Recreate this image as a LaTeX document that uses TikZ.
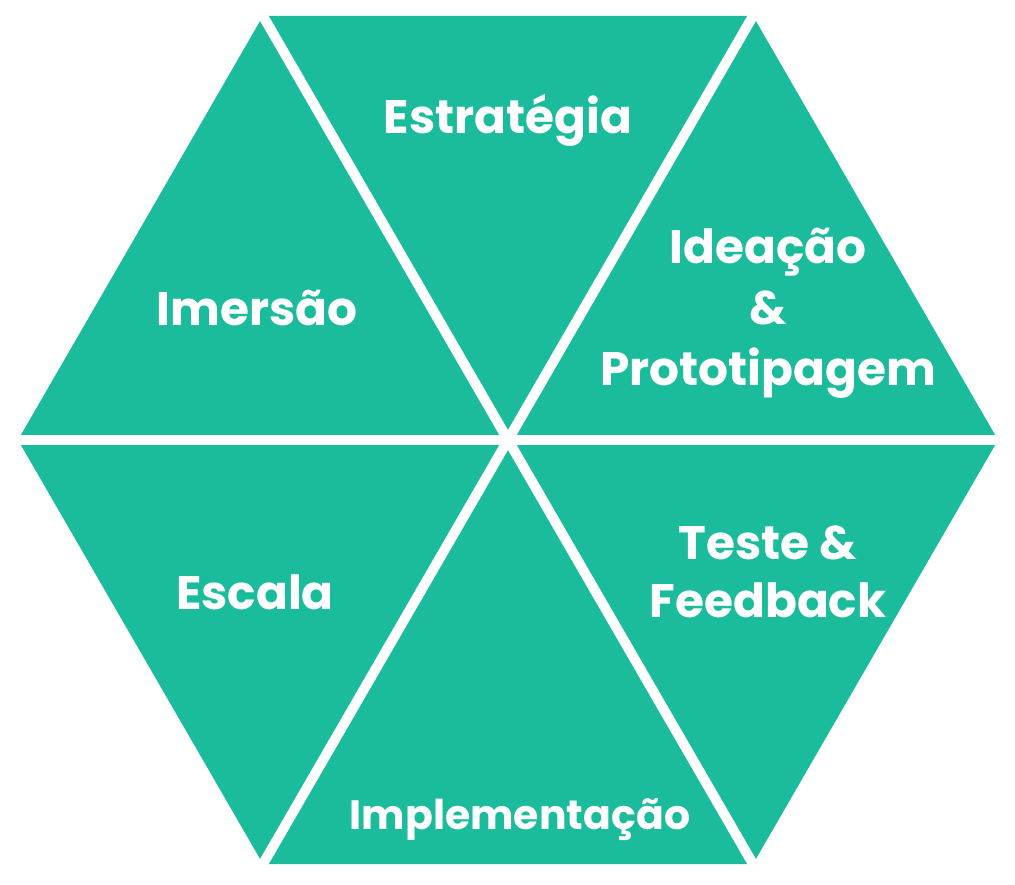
\documentclass[tikz,border=0pt]{standalone}
\usepackage{fontspec}
\setmainfont{Poppins}
\usepackage{xcolor}
\definecolor{turq}{HTML}{1ABC9C}
\tikzset{lbl/.style={text=white,font=\bfseries\fontsize{47pt}{61pt}\selectfont,align=center}}

\begin{document}
\begin{tikzpicture}[x=1pt,y=1pt]
	\useasboundingbox (0,0) rectangle (1015,884);
	% hexagon
	\coordinate (c) at (508,444);
	\coordinate (w) at (18,444);
	\coordinate (e) at (998,444);
	\coordinate (nw) at (263,868);
	\coordinate (ne) at (753,868);
	\coordinate (sw) at (263,20);
	\coordinate (se) at (753,20);
\fill[turq] (w) -- (nw) -- (ne) -- (e) -- (se) -- (sw) -- cycle;
\draw[white,line width=10pt] (w) -- (e);
\draw[white,line width=10pt] (nw) -- (se);
\draw[white,line width=10pt] (ne) -- (sw);
	\node[lbl] (estr) at (508,764) {Estratégia};
	\node[lbl] (imer) at (257,576) {Imersão};
	\node[lbl] (idea) at (768,571) {Ideação\\\&\\Prototipagem};
	\node[lbl] (esca) at (255,292) {Escala};
	\node[lbl,font=\bfseries\fontsize{47pt}{58pt}\selectfont] (test) at (768,312) {Teste \&\\Feedback};
	\node[lbl,font=\bfseries\fontsize{41pt}{50pt}\selectfont] (impl) at (520,64) {Implementação};

\end{tikzpicture}
\end{document}
